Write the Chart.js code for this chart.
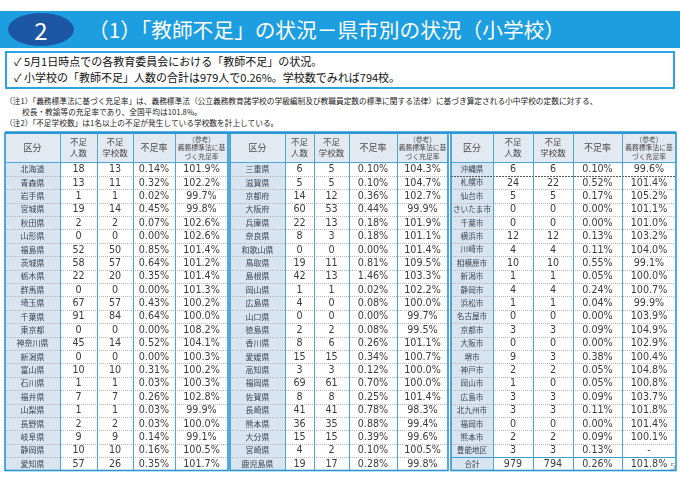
<!DOCTYPE html>
<html><head><meta charset="utf-8">
<script src="https://cdn.jsdelivr.net/npm/chart.js@4"></script>
<style>
html,body{margin:0;padding:0;background:#fff;}
body{width:680px;height:481px;position:relative;overflow:hidden;font-family:"Noto Sans CJK JP","Noto Sans",sans-serif;color:#111;}
#band{position:absolute;left:0;top:11px;width:680px;height:37px;background:#1c9ee0;}
#num{position:absolute;left:8px;top:13px;width:66px;height:33px;border-radius:50%;background:#1d56a3;color:#fff;font-size:24px;line-height:33px;text-align:center;}
#title{position:absolute;left:88px;top:11px;height:37px;line-height:37px;color:#fff;font-size:20.7px;white-space:nowrap;}
#box{position:absolute;left:5px;top:51px;width:666px;height:34px;border:2px solid #2aa3df;}
.chk{position:absolute;left:7px;font-size:11px;white-space:nowrap;line-height:14px;}
.note{position:absolute;font-size:7.7px;white-space:nowrap;line-height:9px;color:#222;}
#page{position:absolute;left:670px;top:462px;font-size:9px;color:#9a9a9a;font-family:"DejaVu Sans",sans-serif;}
#c{position:absolute;left:0;top:126px;}
</style>
</head><body>
<div id="band"></div>
<div id="num">2</div>
<div id="title">（1）「教師不足」の状況－県市別の状況（小学校）</div>
<div id="box">
  <div class="chk" style="top:1px">✓ 5月1日時点での各教育委員会における「教師不足」の状況。</div>
  <div class="chk" style="top:17px">✓ 小学校の「教師不足」人数の合計は979人で0.26%。学校数でみれば794校。</div>
</div>
<div class="note" style="left:5px;top:96px">（注1）「義務標準法に基づく充足率」は、義務標準法（公立義務教育諸学校の学級編制及び教職員定数の標準に関する法律）に基づき算定される小中学校の定数に対する、</div>
<div class="note" style="left:22px;top:107px">校長・教諭等の充足率であり、全国平均は101.8%。</div>
<div class="note" style="left:5px;top:118px">（注2）「不足学校数」は1名以上の不足が発生している学校数を計上している。</div>
<canvas id="c" width="680" height="352"></canvas>
<div id="page">5</div>
<script>
// ---- data ----
const headerLabels = ['区分','不足\n人数','不足\n学校数','不足率','（参考）\n義務標準法に基\nづく充足率'];
const names = [
'北海道','青森県','岩手県','宮城県','秋田県','山形県','福島県','茨城県','栃木県','群馬県','埼玉県','千葉県','東京都','神奈川県','新潟県','富山県','石川県','福井県','山梨県','長野県','岐阜県','静岡県','愛知県',
'三重県','滋賀県','京都府','大阪府','兵庫県','奈良県','和歌山県','鳥取県','島根県','岡山県','広島県','山口県','徳島県','香川県','愛媛県','高知県','福岡県','佐賀県','長崎県','熊本県','大分県','宮崎県','鹿児島県',
'沖縄県','札幌市','仙台市','さいたま市','千葉市','横浜市','川崎市','相模原市','新潟市','静岡市','浜松市','名古屋市','京都市','大阪市','堺市','神戸市','岡山市','広島市','北九州市','福岡市','熊本市','豊能地区','合計'];
const shortageTeachers = [18,13,1,19,2,0,52,58,22,0,67,91,0,45,0,10,1,7,1,2,9,10,57,
6,5,14,60,22,8,0,19,42,1,4,0,2,8,15,3,69,8,41,36,15,4,19,
6,24,5,0,0,12,4,10,1,4,1,0,3,0,9,2,1,3,3,0,2,3,979];
const shortageSchools = [13,11,1,14,2,0,50,57,20,0,57,84,0,14,0,10,1,7,1,2,9,10,26,
5,5,12,53,13,3,0,11,13,1,0,0,2,6,15,3,61,8,41,35,15,2,17,
6,22,5,0,0,12,4,10,1,4,1,0,3,0,3,2,0,3,3,0,2,3,794];
const shortageRate = [0.14,0.32,0.02,0.45,0.07,0.00,0.85,0.64,0.35,0.00,0.43,0.64,0.00,0.52,0.00,0.31,0.03,0.26,0.03,0.03,0.14,0.16,0.35,
0.10,0.10,0.36,0.44,0.18,0.18,0.00,0.81,1.46,0.02,0.08,0.00,0.08,0.26,0.34,0.12,0.70,0.25,0.78,0.88,0.39,0.10,0.28,
0.10,0.52,0.17,0.00,0.00,0.13,0.11,0.55,0.05,0.24,0.04,0.00,0.09,0.00,0.38,0.05,0.05,0.09,0.11,0.00,0.09,0.13,0.26];
const fillRate = [101.9,102.2,99.7,99.8,102.6,102.6,101.4,101.2,101.4,101.3,100.2,100.0,108.2,104.1,100.3,100.2,100.3,102.8,99.9,100.0,99.1,100.5,101.7,
104.3,104.7,102.7,99.9,101.9,101.1,101.4,109.5,103.3,102.2,100.0,99.7,99.5,101.1,100.7,100.0,100.0,101.4,98.3,99.4,99.6,100.5,99.8,
99.6,101.4,105.2,101.1,101.0,103.2,104.0,99.1,100.0,100.7,99.9,103.9,104.9,102.9,100.4,104.8,100.8,103.7,101.8,101.4,100.1,null,101.8];

// ---- layout (not data) ----
const SECTION_EDGES = [[5,60,97,133,175,228],[230,285,314,349,397,448],[451,493,533,573,622,676]];
const ROWS = 23;
const HEADER_ROWS = 2.2;

const points = [];
names.forEach((n,i)=>{
  const s = Math.floor(i/ROWS), r = i % ROWS, e = SECTION_EDGES[s];
  const vals = [n, String(shortageTeachers[i]), String(shortageSchools[i]),
    shortageRate[i].toFixed(2)+'%', fillRate[i]==null ? '-' : fillRate[i].toFixed(1)+'%'];
  vals.forEach((t,c)=>points.push({x:(e[c]+e[c+1])/2, y:r+0.5, t, kind:c===0?(s===2?'nameS':'name'):'num'}));
});
SECTION_EDGES.forEach(e=>headerLabels.forEach((t,c)=>points.push({x:(e[c]+e[c+1])/2, y:-HEADER_ROWS/2, t, kind:'head'})));

const CJK = '"Noto Sans CJK JP", sans-serif';
const tablePlugin = {
  id:'table',
  beforeDatasetsDraw(chart){
    const {ctx, scales:{x,y}} = chart;
    const T = y.getPixelForValue(-HEADER_ROWS), HB = y.getPixelForValue(0), B = y.getPixelForValue(ROWS);
    ctx.save();
    SECTION_EDGES.forEach((e,s)=>{
      const L = x.getPixelForValue(e[0]), R = x.getPixelForValue(e[5]), N = x.getPixelForValue(e[1]);
      ctx.fillStyle = '#e3e9f1'; ctx.fillRect(L,T,R-L,HB-T);
      ctx.fillStyle = '#d8e4f0'; ctx.fillRect(L,HB,N-L,B-HB);
      for(let r=1;r<ROWS;r++){
        const yy = Math.round(y.getPixelForValue(r))+0.5;
        ctx.beginPath();
        if(s===2 && r===ROWS-1){ ctx.setLineDash([]); ctx.strokeStyle='#3a9ed9'; ctx.lineWidth=1.2; }
        else if(s===2 && r===1){ ctx.setLineDash([2,1]); ctx.strokeStyle='#555'; ctx.lineWidth=1; }
        else { ctx.setLineDash([1,1]); ctx.strokeStyle='#b5b5b5'; ctx.lineWidth=1; }
        ctx.moveTo(L,yy); ctx.lineTo(R,yy); ctx.stroke();
      }
      ctx.setLineDash([]);
      ctx.strokeStyle = '#4aa8dd'; ctx.lineWidth = 1;
      for(let c=1;c<5;c++){
        const xx = Math.round(x.getPixelForValue(e[c]))+0.5;
        ctx.beginPath(); ctx.moveTo(xx,T); ctx.lineTo(xx,B); ctx.stroke();
      }
      const hb = Math.round(HB)+0.5;
      ctx.beginPath(); ctx.moveTo(L,hb); ctx.lineTo(R,hb); ctx.stroke();
      ctx.strokeStyle = '#2795d6'; ctx.lineWidth = 1.6;
      ctx.strokeRect(L,T,R-L,B-T);
    });
    ctx.strokeStyle = '#2795d6'; ctx.lineWidth = 2.5;
    ctx.beginPath(); ctx.moveTo(x.getPixelForValue(SECTION_EDGES[0][0]),T-0.5); ctx.lineTo(x.getPixelForValue(SECTION_EDGES[2][5]),T-0.5); ctx.stroke();
    ctx.restore();
  },
  afterDatasetsDraw(chart){
    const ctx = chart.ctx, meta = chart.getDatasetMeta(0), data = chart.data.datasets[0].data;
    ctx.save(); ctx.textAlign='center'; ctx.textBaseline='middle';
    meta.data.forEach((el,i)=>{
      const d = data[i];
      if(d.kind==='num'){ ctx.font='9.6px "DejaVu Sans", sans-serif'; ctx.fillStyle='#3a3a3a'; ctx.fillText(d.t, el.x, el.y+0.5); }
      else if(d.kind==='name'){ ctx.font='8px '+CJK; ctx.fillStyle='#3b4654'; ctx.fillText(d.t, el.x, el.y); }
      else if(d.kind==='nameS'){ ctx.font='7.6px '+CJK; ctx.fillStyle='#3b4654'; ctx.fillText(d.t, el.x, el.y); }
      else {
        const lines = d.t.split('\n');
        const fs = lines.length>2 ? 6.8 : (lines.length>1 ? 8.5 : 9);
        const lh = lines.length>2 ? 8.4 : 11;
        ctx.font = fs+'px '+CJK; ctx.fillStyle='#4a4a4a';
        lines.forEach((ln,k)=>ctx.fillText(ln, el.x, el.y + (k-(lines.length-1)/2)*lh));
      }
    });
    ctx.restore();
  }
};

new Chart(document.getElementById('c'), {
  type:'scatter',
  data:{datasets:[{data:points, pointRadius:0, pointHoverRadius:0}]},
  options:{
    responsive:false, animation:false, devicePixelRatio:1,
    layout:{padding:{left:0,right:0,top:7,bottom:7.5}},
    plugins:{legend:{display:false}, tooltip:{enabled:false}},
    events:[],
    scales:{
      x:{type:'linear', min:0, max:680, display:false},
      y:{type:'linear', min:-HEADER_ROWS, max:ROWS, reverse:true, display:false}
    }
  },
  plugins:[tablePlugin]
});
</script>
</body></html>
